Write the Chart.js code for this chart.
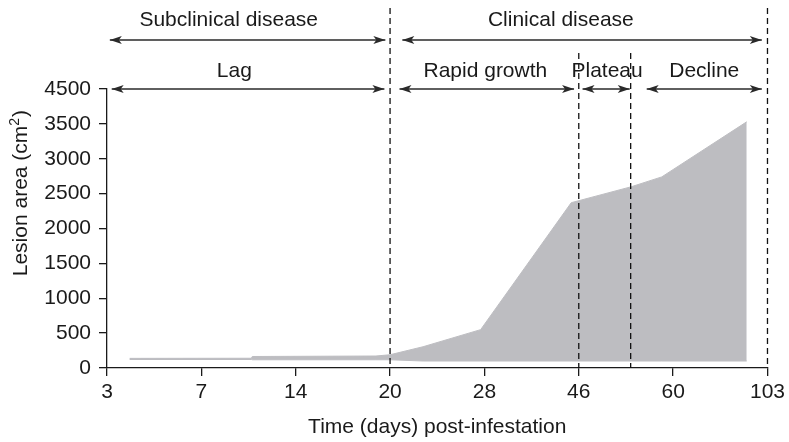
<!DOCTYPE html>
<html>
<head>
<meta charset="utf-8">
<script src="https://cdn.jsdelivr.net/npm/chart.js@4.4.0/dist/chart.umd.min.js"></script>
<style>
  html, body { margin: 0; padding: 0; background: #fff; }
  #wrap { width: 789px; height: 442px; position: relative; }
</style>
</head>
<body>
<div id="wrap"><canvas id="lesionChart"></canvas></div>
<script>
// sampling days on the x axis (evenly spaced, not to scale)
const dayLabels = ['3', '7', '14', '20', '28', '46', '60', '103'];
const yTickLabels = ['0', '500', '1000', '1500', '2000', '2500', '3000', '3500', '4500'];

// lesion area outline; x is the position along the day axis (0 = day 3 ... 7 = day 103)
const samplePos  = [0.24, 1.53, 1.54, 2.85, 3.0, 3.35, 3.96, 4.92, 5.56, 5.88, 6.78];
const lesionTop  = [138, 140, 165, 172, 190, 305, 550, 2370, 2600, 2740, 3530];
const lesionBase = [122, 122, 118, 118, 118, 100, 100, 100, 100, 100, 100];

// disease stages above the plot
const stageNames = ['Subclinical disease', 'Clinical disease'];
const stageFrom  = [0.03, 3.13];
const stageTo    = [2.95, 6.94];
const stageMid   = [1.29, 4.81];

const phaseNames = ['Lag', 'Rapid growth', 'Plateau', 'Decline'];
const phaseFrom  = [0.05, 3.10, 5.04, 5.72];
const phaseTo    = [2.94, 4.95, 5.54, 6.94];
const phaseMid   = [1.35, 4.01, 5.30, 6.33];

// dashed boundaries; the long ones run up to the stage row
const boundaryPos  = [3, 5, 5.55, 7];
const boundaryLong = [true, false, false, true];

const FAMILY = '"Liberation Sans", Arial, Helvetica, sans-serif';
const INK = '#1a1a1a';
const AREA = '#bdbdc1';

function arrowHead(ctx, x, y, dir) {
  ctx.beginPath();
  ctx.moveTo(x, y);
  ctx.lineTo(x - dir * 12, y - 4);
  ctx.lineTo(x - dir * 9, y);
  ctx.lineTo(x - dir * 12, y + 4);
  ctx.closePath();
  ctx.fill();
}

function doubleArrow(ctx, x1, x2, y) {
  ctx.beginPath();
  ctx.moveTo(x1, y);
  ctx.lineTo(x2, y);
  ctx.stroke();
  arrowHead(ctx, x1, y, -1);
  arrowHead(ctx, x2, y, 1);
}

const stagesPlugin = {
  id: 'stages',
  afterDatasetsDraw(chart) {
    const { ctx, chartArea, scales: { x } } = chart;
    const top = chartArea.top;
    ctx.save();

    // stage boundaries
    ctx.strokeStyle = '#111';
    ctx.lineWidth = 1.3;
    ctx.setLineDash([6, 4]);
    boundaryPos.forEach((p, i) => {
      const px = x.getPixelForValue(p);
      ctx.beginPath();
      ctx.moveTo(px, boundaryLong[i] ? top - 81 : top - 36);
      ctx.lineTo(px, chartArea.bottom);
      ctx.stroke();
    });
    ctx.setLineDash([]);

    // arrows
    ctx.strokeStyle = '#2a2a2a';
    ctx.fillStyle = '#2a2a2a';
    ctx.lineWidth = 1.4;
    stageNames.forEach((_, i) => {
      doubleArrow(ctx, x.getPixelForValue(stageFrom[i]), x.getPixelForValue(stageTo[i]), top - 49);
    });
    phaseNames.forEach((_, i) => {
      doubleArrow(ctx, x.getPixelForValue(phaseFrom[i]), x.getPixelForValue(phaseTo[i]), top);
    });

    // labels
    ctx.fillStyle = INK;
    ctx.font = '21px ' + FAMILY;
    ctx.textAlign = 'center';
    ctx.textBaseline = 'alphabetic';
    stageNames.forEach((name, i) => ctx.fillText(name, x.getPixelForValue(stageMid[i]), top - 63));
    phaseNames.forEach((name, i) => ctx.fillText(name, x.getPixelForValue(phaseMid[i]), top - 12));

    // y axis title with superscript
    const cy = chartArea.top + 0.373 * (chartArea.bottom - chartArea.top);
    ctx.translate(27, cy);
    ctx.rotate(-Math.PI / 2);
    ctx.textAlign = 'left';
    const main = 'Lesion area (cm';
    ctx.font = '21px ' + FAMILY;
    const w1 = ctx.measureText(main).width;
    ctx.font = '14px ' + FAMILY;
    const w2 = ctx.measureText('2').width;
    ctx.font = '21px ' + FAMILY;
    const w3 = ctx.measureText(')').width;
    let sx = -(w1 + w2 + w3 + 1) / 2;
    ctx.fillText(main, sx, 0);
    sx += w1;
    ctx.font = '14px ' + FAMILY;
    ctx.fillText('2', sx, -8);
    sx += w2 + 1;
    ctx.font = '21px ' + FAMILY;
    ctx.fillText(')', sx, 0);

    ctx.restore();
  }
};

const ctx = document.getElementById('lesionChart').getContext('2d');
const lesionChart = new Chart(ctx, {
  type: 'line',
  data: {
    datasets: [
      {
        label: 'base',
        data: samplePos.map((p, i) => ({ x: p, y: lesionBase[i] })),
        borderColor: AREA,
        borderWidth: 1,
        pointRadius: 0,
        fill: false,
        tension: 0
      },
      {
        label: 'Lesion area',
        data: samplePos.map((p, i) => ({ x: p, y: lesionTop[i] })),
        borderColor: AREA,
        backgroundColor: AREA,
        borderWidth: 1,
        pointRadius: 0,
        fill: '-1',
        tension: 0
      }
    ]
  },
  options: {
    responsive: true,
    maintainAspectRatio: false,
    animation: false,
    layout: { padding: { top: 89, right: 20, left: 0, bottom: 0 } },
    plugins: {
      legend: { display: false },
      tooltip: { enabled: false }
    },
    scales: {
      x: {
        type: 'linear',
        min: 0,
        max: 7,
        afterFit(scale) { scale.height = 74; },
        ticks: {
          stepSize: 1,
          autoSkip: false,
          maxRotation: 0,
          padding: 4,
          color: INK,
          font: { family: FAMILY, size: 21 },
          callback: (v) => dayLabels[v]
        },
        grid: { drawOnChartArea: false, drawTicks: true, tickLength: 8, color: INK, lineWidth: 1.3 },
        border: { color: INK, width: 1.3 },
        title: {
          display: true,
          text: 'Time (days) post-infestation',
          color: INK,
          font: { family: FAMILY, size: 21 },
          padding: { top: 0, bottom: 2 }
        }
      },
      y: {
        min: 0,
        max: 4000,
        afterFit(scale) { scale.width = 107; },
        ticks: {
          stepSize: 500,
          padding: 8,
          color: INK,
          font: { family: FAMILY, size: 21 },
          callback: (v, i) => yTickLabels[i]
        },
        grid: { drawOnChartArea: false, drawTicks: true, tickLength: 8, color: INK, lineWidth: 1.3 },
        border: { color: INK, width: 1.3 }
      }
    }
  },
  plugins: [stagesPlugin]
});
</script>
</body>
</html>
